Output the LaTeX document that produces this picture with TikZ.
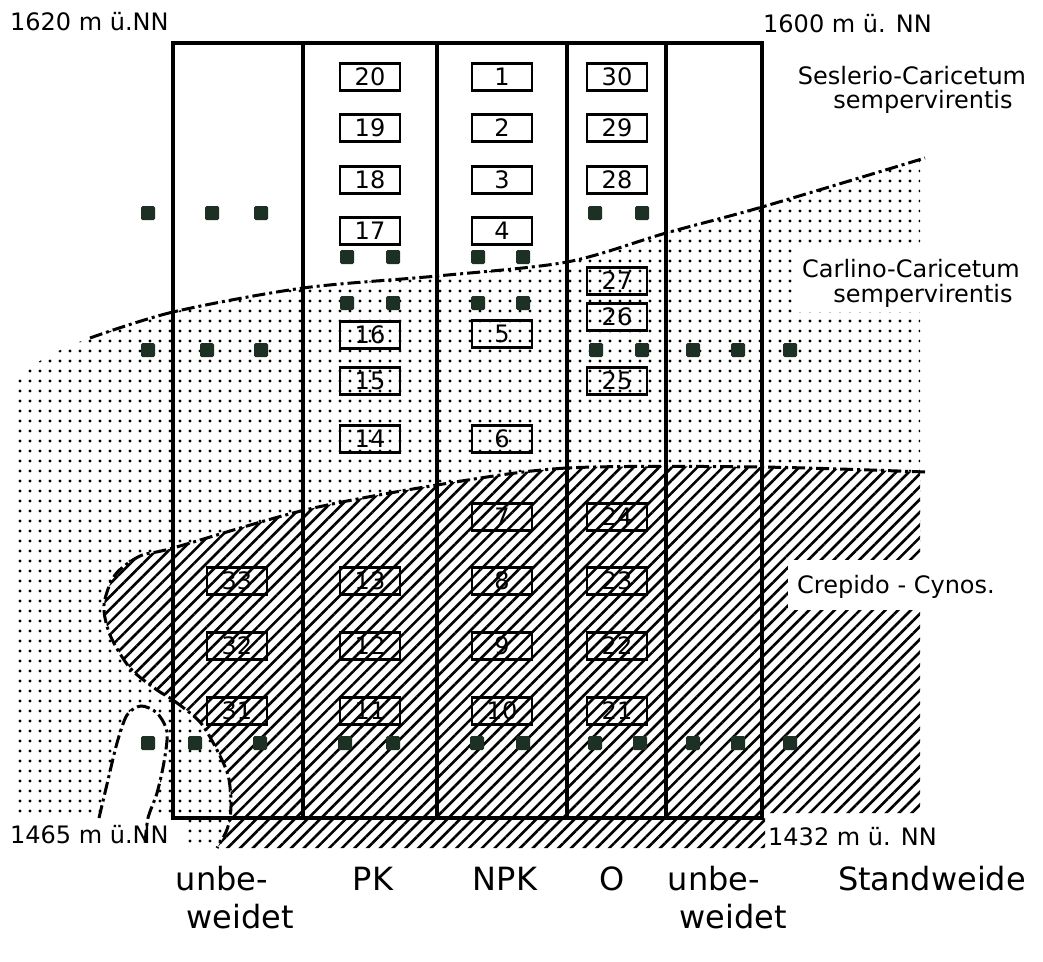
\documentclass[tikz,border=0pt]{standalone}
\usepackage{fontspec}
\setmainfont{DejaVu Sans}
\usetikzlibrary{patterns.meta}
\definecolor{sq}{RGB}{28,48,36}
\begin{document}
\begin{tikzpicture}[x=1pt,y=-1pt,
  plotbox/.style={draw, line width=2.3pt, minimum width=60pt, minimum height=27pt, inner sep=0pt, font=\fontsize{24}{24}\selectfont},
  sqr/.style={fill=sq, minimum size=14pt, inner sep=0pt, rounded corners=1.5pt},
  frame/.style={line width=3.6pt},
  zoneline/.style={line width=3pt, dash pattern=on 13pt off 4pt on 3pt off 4pt},
  lbl/.style={anchor=base west, inner sep=0pt, font=\fontsize{24}{24}\selectfont},
  lblc/.style={anchor=base, inner sep=0pt, font=\fontsize{24}{24}\selectfont},
  big/.style={anchor=base, inner sep=0pt, font=\fontsize{32}{32}\selectfont},
  dotfill/.style={pattern={Dots[distance=10pt, radius=1.6pt]}},
  hatchfill/.style={pattern={Lines[angle=45, distance=9pt, line width=2.6pt]}},
]
\useasboundingbox (0,0) rectangle (1043,961);
% dotted zone (Carlino-Caricetum)
\fill[dotfill] (12,815) -- (12,380) .. controls (32,364) and (60,348) .. (90,338)
  -- plot[smooth] coordinates {(90,338) (173,312) (303,288) (437,276) (567,262) (666,233) (762,207) (920,160)}
  -- (920,600) -- (240,848) -- (182,848) -- (182,818) -- (173,815) -- cycle;
% hatched zone (Crepido-Cynos.)
\path[preaction={fill=white}, hatchfill] plot[smooth] coordinates {(920,472) (760,467) (567,468) (437,485) (305,510) (173,548) (140,556) (115,575) (104,605) (110,635) (130,668) (157,690) (173,700) (200,722) (217,750) (228,775) (231,800) (230,818) (226,832) (217,848)}
  -- (765,848) -- (765,813) -- (920,813) -- cycle;
% white tongue
\fill[white] plot[smooth] coordinates {(99,818) (108,780) (117,743) (127,715) (141,706) (157,713) (167,732) (164,762) (157,793) (148,818)} -- cycle;
% white grounds behind the zone names
\fill[white] (792,243) rectangle (925,312);
\fill[white] (788,560) rectangle (925,610);
% zone boundaries
\draw[zoneline] plot[smooth] coordinates {(90,338) (173,312) (303,288) (437,276) (567,262) (666,233) (762,207) (925,158)};
\draw[zoneline] plot[smooth] coordinates {(925,472) (760,467) (567,468) (437,485) (305,510) (173,548) (140,556) (115,575) (104,605) (110,635) (130,668) (157,690) (173,700) (200,722) (217,750) (228,775) (231,800) (230,818) (226,832) (217,848)};
\draw[zoneline] plot[smooth] coordinates {(99,818) (108,780) (117,743) (127,715) (141,706) (157,713) (167,732) (164,762) (157,793) (148,818) (145,845)};
% frame and columns
\draw[frame] (173,43) rectangle (762,818);
\draw[frame] (303,43) -- (303,818);
\draw[frame] (437,43) -- (437,818);
\draw[frame] (567,43) -- (567,818);
\draw[frame] (666,43) -- (666,818);
% numbered plots
\foreach \n/\x/\y in {20/370/77, 19/370/128, 18/370/180, 17/370/231, 16/370/335, 15/370/381, 14/370/439, 13/370/581, 12/370/646, 11/370/711,
  1/502/77, 2/502/128, 3/502/180, 4/502/231, 5/502/334, 6/502/439, 7/502/517, 8/502/581, 9/502/646, 10/502/711,
  30/617/77, 29/617/128, 28/617/180, 27/617/281, 26/617/317, 25/617/381, 24/617/517, 23/617/581, 22/617/646, 21/617/711,
  33/237/581, 32/237/646, 31/237/711}
  \node[plotbox] (b\n) at (\x,\y) {\n};
% squares
\foreach \x/\y [count=\i] in {148/213, 212/213, 261/213, 595/213, 642/213,
  347/257, 393/257, 478/257, 523/257,
  347/303, 393/303, 478/303, 523/303,
  148/350, 207/350, 261/350, 596/350, 642/350, 693/350, 738/350, 790/350,
  148/743, 195/743, 260/743, 345/743, 393/743, 477/743, 523/743, 595/743, 640/743, 693/743, 738/743, 790/743}
  \node[sqr] (s\i) at (\x,\y) {};
% labels
\node[lbl] (h1) at (10,30) {1620 m ü.NN};
\node[lbl] (h2) at (763,32) {1600 m ü. NN};
\node[lbl] (h3) at (10,843) {1465 m ü.NN};
\node[lbl] (h4) at (768,845) {1432 m ü. NN};
\node[lblc] (z1a) at (912,84) {Seslerio-Caricetum};
\node[lblc] (z1b) at (923,108) {sempervirentis};
\node[lblc] (z2a) at (911,277) {Carlino-Caricetum};
\node[lblc] (z2b) at (923,302) {sempervirentis};
\node[lbl] (z3) at (797,593) {Crepido - Cynos.};
\node[big] (t1a) at (222,890) {unbe-};
\node[big] (t1b) at (240,928) {weidet};
\node[big] (t2) at (373,890) {PK};
\node[big] (t3) at (505,890) {NPK};
\node[big] (t4) at (612,890) {O};
\node[big] (t5a) at (714,890) {unbe-};
\node[big] (t5b) at (733,928) {weidet};
\node[big] (t6) at (932,890) {Standweide};
\end{tikzpicture}
\end{document}
